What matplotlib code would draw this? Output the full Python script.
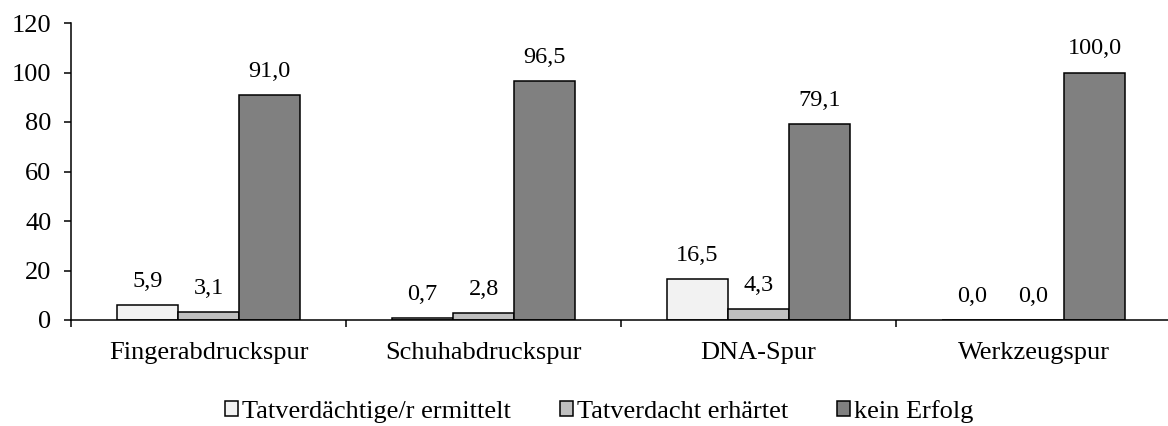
import matplotlib
matplotlib.use("Agg")
import matplotlib.pyplot as plt
import numpy as np

categories = ["Fingerabdruckspur", "Schuhabdruckspur", "DNA-Spur", "Werkzeugspur"]
series_names = ["Tatverdächtige/r ermittelt", "Tatverdacht erhärtet", "kein Erfolg"]
ermittelt = [5.9, 0.7, 16.5, 0.0]
erhaertet = [3.1, 2.8, 4.3, 0.0]
kein_erfolg = [91.0, 96.5, 79.1, 100.0]
yticks = [0, 20, 40, 60, 80, 100, 120]

colors = ["#f2f2f2", "#bfbfbf", "#808080"]

plt.rcParams['font.family'] = ['Liberation Serif', 'DejaVu Serif']

fig = plt.figure(figsize=(11.68, 4.26), dpi=100)
ax = fig.add_axes([71/1168, 106/426, 1100/1168, 297/426])

x = np.arange(len(categories))
w = 1 / 4.5
series = [ermittelt, erhaertet, kein_erfolg]
for i, (vals, name, col) in enumerate(zip(series, series_names, colors)):
    pos = x + (i - 1) * w
    ax.bar(pos, vals, width=w, color=col, edgecolor="black", linewidth=1.1, label=name)
    for xi, v in zip(pos, vals):
        ax.annotate(f"{v:.1f}".replace(".", ","), (xi, v), xytext=(0, 17),
                    textcoords="offset points", ha="center", va="center", fontsize=17.5)

ax.set_xlim(-0.5, 3.5)
ax.set_ylim(0, 120)
ax.set_yticks(yticks)
ax.set_yticklabels([str(t) for t in yticks], fontsize=19)
ax.tick_params(axis='y', direction='out', length=5, width=1.1, pad=9)

ax.set_xticks(np.arange(-0.5, 4, 1.0))
ax.set_xticklabels([])
ax.set_xticks(x, minor=True)
ax.set_xticklabels(categories, minor=True, fontsize=19)
ax.tick_params(axis='x', which='major', direction='out', length=5, width=1.1)
ax.tick_params(axis='x', which='minor', length=0, pad=16)

for s in ["top", "right"]:
    ax.spines[s].set_visible(False)
for s in ["left", "bottom"]:
    ax.spines[s].set_linewidth(1.1)

fig.legend(loc="center", bbox_to_anchor=(0.513, 0.035), ncol=3, frameon=False,
           fontsize=19, handlelength=0.5, handleheight=0.5, handletextpad=0.15,
           columnspacing=1.85, borderaxespad=0, borderpad=0)

fig.savefig("out.png", dpi=100)
